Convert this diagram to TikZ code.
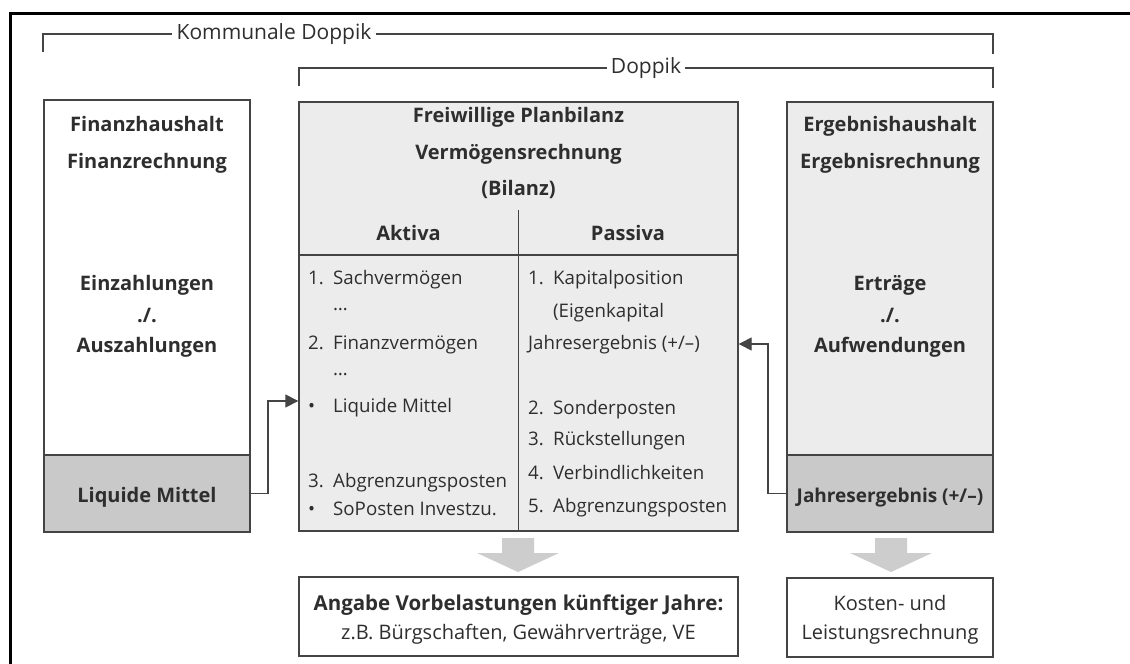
\documentclass[tikz,border=0pt]{standalone}
\usepackage{fontspec}
\setmainfont{Open Sans}
\usetikzlibrary{arrows.meta}
\definecolor{txt}{HTML}{2E2E2E}
\definecolor{ln}{HTML}{444444}
\definecolor{lightfill}{HTML}{ECECEC}
\definecolor{bandfill}{HTML}{C9C9C9}
\definecolor{blockfill}{HTML}{CDCDCD}
\begin{document}
\begin{tikzpicture}[x=1pt,y=-1pt,
  every node/.style={text=txt,inner sep=0pt,font=\fontsize{20}{24}\selectfont},
  box/.style={draw=ln,line width=1.4pt,rectangle},
  tl/.style={anchor=base},
  tlb/.style={anchor=base,font=\fontsize{20}{24}\selectfont\bfseries},
  li/.style={anchor=base west,font=\fontsize{18.7}{22}\selectfont},
  hdr/.style={font=\fontsize{21}{25}\selectfont,inner xsep=4pt,inner ysep=0pt,text=txt},
  brk/.style={draw=ln,line width=1.2pt},
  conn/.style={draw=ln,line width=1.4pt,-{Triangle[length=13pt,width=13pt]}},
  blockarrow/.style={fill=blockfill,draw=none}]
\useasboundingbox (0,0) rectangle (1130,664);
\fill[white] (0,0) rectangle (1130,664);
% frame
\draw[line width=3pt,black] (10,664) -- (10,13) -- (1130,13);

% brackets
\node[hdr] (kd) at (274,34) {Kommunale Doppik};
\draw[brk] (43,52) -- (43,34) -- (kd.west);
\draw[brk] (kd.east) -- (993,34) -- (993,54);
\node[hdr] (dp) at (646,68) {Doppik};
\draw[brk] (299,86) -- (299,68) -- (dp.west);
\draw[brk] (dp.east) -- (993,68) -- (993,88);

% Finanzhaushalt
\node[box,fill=white,minimum width=206pt,minimum height=432pt] (fin) at (147,316) {};
\node[box,fill=bandfill,minimum width=206pt,minimum height=77pt] (finband) at (147,493.5) {};
\node[tlb] (fin1) at (147,131) {Finanzhaushalt};
\node[tlb] (fin2) at (147,168) {Finanzrechnung};
\node[tlb] (fin3) at (147,290) {Einzahlungen};
\node[tlb] (fin4) at (147,322) {./.};
\node[tlb] (fin5) at (147,352) {Auszahlungen};
\node[tlb] (finliq) at (147,502) {Liquide Mittel};

% Bilanz
\node[box,fill=lightfill,minimum width=439pt,minimum height=429pt] (bil) at (518.5,316.5) {};
\draw[draw=ln,line width=1.4pt] (bil.west |- 0,255) -- (bil.east |- 0,255);
\draw[draw=ln,line width=1.2pt] (bil.south) -- (518.5,210);
\node[tlb] (bil1) at (518.5,122) {Freiwillige Planbilanz};
\node[tlb] (bil2) at (518.5,159) {Vermögensrechnung};
\node[tlb] (bil3) at (518.5,195) {(Bilanz)};
\node[tlb] (akt) at (408.5,240) {Aktiva};
\node[tlb] (pas) at (628,240) {Passiva};
% Aktiva list
\node[li] (a1) at (308,284) {\makebox[25pt][l]{1.}Sachvermögen};
\node[li] (a1d) at (308,310) {\makebox[25pt][l]{}…};
\node[li] (a2) at (308,349) {\makebox[25pt][l]{2.}Finanzvermögen};
\node[li] (a2d) at (308,375) {\makebox[25pt][l]{}…};
\node[li] (aliq) at (308,412) {\makebox[25pt][l]{•}Liquide Mittel};
\node[li] (a3) at (308,487) {\makebox[25pt][l]{3.}Abgrenzungsposten};
\node[li] (aso) at (308,515) {\makebox[25pt][l]{•}SoPosten Investzu.};
% Passiva list
\node[li] (p1) at (528,284) {\makebox[25pt][l]{1.}Kapitalposition};
\node[li] (p1b) at (528,317) {\makebox[25pt][l]{}(Eigenkapital};
\node[li] (pje) at (528,349) {Jahresergebnis (+/–)};
\node[li] (p2) at (528,414) {\makebox[25pt][l]{2.}Sonderposten};
\node[li] (p3) at (528,445) {\makebox[25pt][l]{3.}Rückstellungen};
\node[li] (p4) at (528,479) {\makebox[25pt][l]{4.}Verbindlichkeiten};
\node[li] (p5) at (528,512) {\makebox[25pt][l]{5.}Abgrenzungsposten};

% Ergebnishaushalt
\node[box,fill=lightfill,minimum width=206pt,minimum height=430pt] (erg) at (890,317) {};
\node[box,fill=bandfill,minimum width=206pt,minimum height=77pt] (ergband) at (890,493.5) {};
\node[tlb] (erg1) at (890,131) {Ergebnishaushalt};
\node[tlb] (erg2) at (890,168) {Ergebnisrechnung};
\node[tlb] (erg3) at (890,290) {Erträge};
\node[tlb] (erg4) at (890,322) {./.};
\node[tlb] (erg5) at (890,352) {Aufwendungen};
\node[tlb,font=\fontsize{19}{23}\selectfont\bfseries] (ergje) at (890,502) {Jahresergebnis (+/–)};

% connectors
\draw[conn] (finband.east) -- (268,493.5) |- (bil.west |- 0,401);
\draw[conn] (ergband.west) -- (768,493.5) |- (bil.east |- 0,344);

% bottom boxes
\node[box,fill=white,minimum width=439pt,minimum height=79pt] (ang) at (518.5,616.5) {};
\node[tlb,font=\fontsize{20.5}{24}\selectfont\bfseries] (ang1) at (518.5,610) {Angabe Vorbelastungen künftiger Jahre:};
\node[tl] (ang2) at (518.5,639) {z.B. Bürgschaften, Gewährverträge, VE};
\node[box,fill=white,minimum width=206pt,minimum height=79pt] (kos) at (890,617.5) {};
\node[tl] (kos1) at (890,610) {Kosten- und};
\node[tl] (kos2) at (890,639) {Leistungsrechnung};

% block arrows
\fill[blockfill] (502,538) -- (534,538) -- (534,553) -- (559,553) -- (518,572) -- (477,553) -- (502,553) -- cycle;
\fill[blockfill] (875,538) -- (907,538) -- (907,553) -- (932,553) -- (891,572) -- (850,553) -- (875,553) -- cycle;
\end{tikzpicture}
\end{document}
